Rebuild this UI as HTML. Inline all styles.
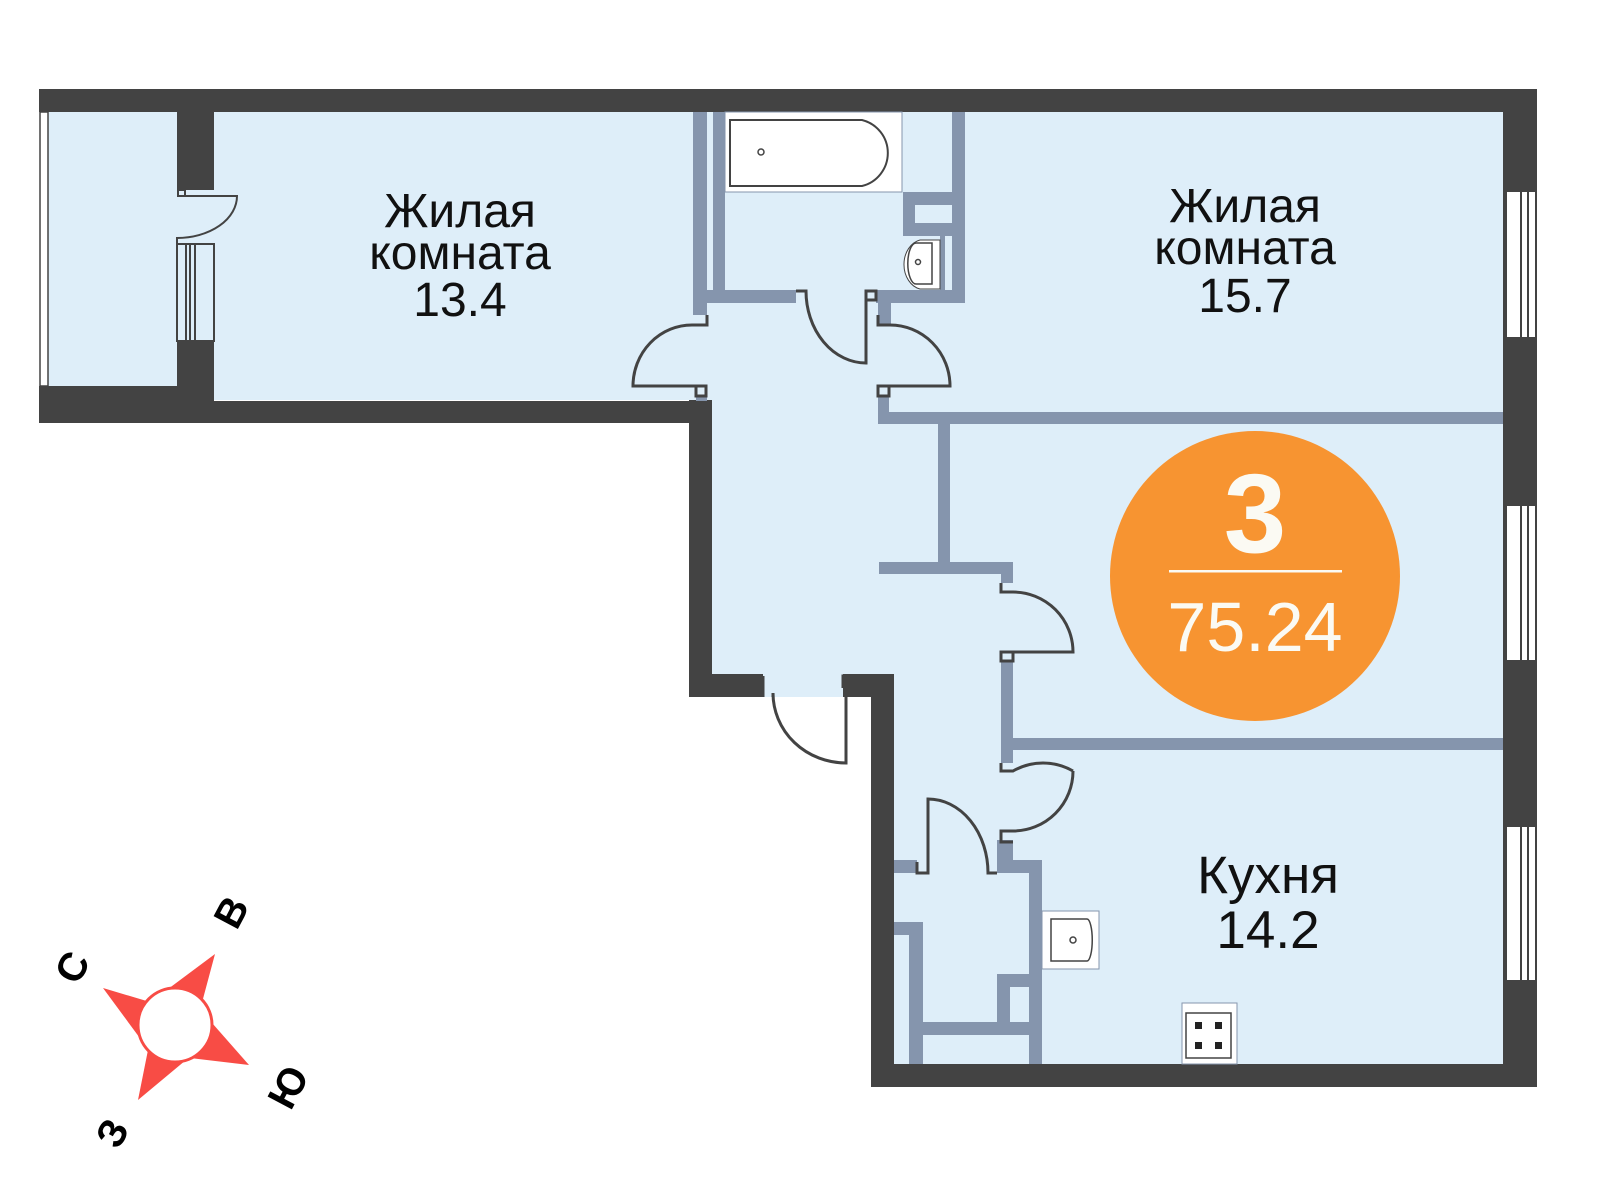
<!DOCTYPE html>
<html><head><meta charset="utf-8"><style>
html,body{margin:0;padding:0;background:#fff;}
svg{display:block;}
text{font-family:"Liberation Sans",sans-serif;}
</style></head><body>
<svg width="1600" height="1200" viewBox="0 0 1600 1200" xmlns="http://www.w3.org/2000/svg">
<!-- floors -->
<g fill="#deeef9">
<rect x="40" y="100" width="1470" height="300"/>
<rect x="712" y="390" width="798" height="680"/>
</g>
<rect x="712" y="697" width="159" height="380" fill="#fff"/>
<!-- balcony window left -->
<rect x="40" y="112" width="8" height="274" fill="#fff" stroke="#434343" stroke-width="1.5"/>
<!-- dark walls -->
<g fill="#434343">
<rect x="39" y="89" width="1498" height="23"/>
<rect x="39" y="386" width="175" height="37"/>
<rect x="214" y="401" width="498" height="22"/>
<rect x="177" y="112" width="37" height="78"/>
<rect x="177" y="341" width="37" height="82"/>
<rect x="689" y="400" width="23" height="297"/>
<rect x="689" y="674" width="74" height="23"/>
<rect x="843" y="674" width="50" height="23"/>
<rect x="871" y="674" width="23" height="413"/>
<rect x="871" y="1064" width="666" height="23"/>
<rect x="1503" y="89" width="34" height="998"/>
</g>
<!-- right windows -->
<g fill="#fff" stroke="#434343" stroke-width="2">
<rect x="1506" y="191" width="30" height="147"/>
<rect x="1506" y="505" width="30" height="156"/>
<rect x="1506" y="826" width="30" height="155"/>
</g>
<g stroke="#434343" stroke-width="2">
<line x1="1521" y1="191" x2="1521" y2="338"/><line x1="1528" y1="191" x2="1528" y2="338"/>
<line x1="1521" y1="505" x2="1521" y2="661"/><line x1="1528" y1="505" x2="1528" y2="661"/>
<line x1="1521" y1="826" x2="1521" y2="981"/><line x1="1528" y1="826" x2="1528" y2="981"/>
</g>
<!-- balcony door & window -->
<rect x="177" y="244" width="37" height="97" fill="#deeef9" stroke="#434343" stroke-width="2"/>
<g stroke="#434343" stroke-width="2" fill="none">
<line x1="186" y1="244" x2="186" y2="341"/><line x1="190" y1="244" x2="190" y2="341"/><line x1="195" y1="244" x2="195" y2="341"/>
<rect x="178" y="190" width="7" height="6"/>
<path d="M177,196 H237 A60 42 0 0 1 177,238 V244"/>
</g>
<!-- gray partitions -->
<g fill="#8595ad">
<rect x="693" y="112" width="14" height="203"/>
<rect x="713" y="112" width="12" height="186"/>
<rect x="707" y="290" width="89" height="13"/>
<rect x="952" y="112" width="13" height="191"/>
<rect x="876" y="290" width="89" height="13"/>
<rect x="903" y="192" width="62" height="44"/>
<rect x="940" y="236" width="5" height="54"/>
<rect x="878" y="303" width="13" height="22"/>
<rect x="878" y="396" width="11" height="28"/>
<rect x="878" y="412" width="625" height="12"/>
<rect x="938" y="424" width="12" height="140"/>
<rect x="879" y="562" width="134" height="12"/>
<rect x="1001" y="562" width="12" height="21"/>
<rect x="1001" y="661" width="12" height="102"/>
<rect x="1013" y="738" width="490" height="12"/>
<rect x="997" y="840" width="16" height="22"/>
<rect x="894" y="860" width="23" height="13"/>
<rect x="997" y="860" width="45" height="13"/>
<rect x="1029" y="860" width="13" height="204"/>
<rect x="894" y="922" width="29" height="13"/>
<rect x="909" y="922" width="14" height="142"/>
<rect x="909" y="1022" width="133" height="13"/>
<rect x="997" y="974" width="45" height="13"/>
<rect x="997" y="974" width="13" height="61"/>
<rect x="696" y="396" width="11" height="5"/>
</g>
<rect x="915" y="205" width="37" height="18" fill="#deeef9"/>
<!-- bathtub -->
<rect x="725" y="112" width="177" height="80" fill="#fff" stroke="#8595ad" stroke-width="1"/>
<path d="M730,120 H862 A34 34 0 0 1 862,186 H730 Z" fill="#fff" stroke="#434343" stroke-width="2"/>
<circle cx="761" cy="152" r="3" fill="none" stroke="#434343" stroke-width="1.5"/>
<!-- sink bath -->
<path d="M940,240 H920 A20 25 0 0 0 920,289 H940 Z" fill="#fff" stroke="#434343" stroke-width="1"/>
<path d="M932,243 H916 A8 20 0 0 0 916,284 H932 Z" fill="#fff" stroke="#434343" stroke-width="1.5"/>
<circle cx="918" cy="262" r="2.5" fill="none" stroke="#434343" stroke-width="1.5"/>
<!-- doors -->
<g stroke="#434343" stroke-width="3" fill="none">
<path d="M796,291 H806 A60 72 0 0 0 866,363 V291 H876 V300 H866"/>
<path d="M707,315 V325 H692 A59 61 0 0 0 633,386 H706 V396 H696 V386"/>
<path d="M878,315 V325 H890 A60 61 0 0 1 950,386 H878 V396 H889 V386"/>
<path d="M1001,583 V592 H1013 A60 60 0 0 1 1073,652 H1001 V661 H1013 V652"/>
<path d="M1001,763 V771 H1013 A60 60 0 0 1 1073,771 M1073,771 A60 60 0 0 1 1013,831 H1001 V842 H1013"/>
<path d="M917,862 V873 H928 V799 A60 74 0 0 1 988,873 H997"/>
<path d="M773,697 V693 A73 70 0 0 0 846,763 V688 H855 V676 H843 V688"/>
<path d="M763,676 V697"/>
</g>
<!-- kitchen sink -->
<rect x="1042" y="911" width="57" height="58" fill="#fff" stroke="#8595ad" stroke-width="1"/>
<path d="M1051,919 H1087 A5 20 0 0 1 1087,961 H1051 Z" fill="#fff" stroke="#434343" stroke-width="1.5"/>
<circle cx="1073" cy="940" r="3" fill="none" stroke="#434343" stroke-width="1.5"/>
<!-- stove -->
<rect x="1182" y="1003" width="55" height="61" fill="#fff" stroke="#8595ad" stroke-width="1"/>
<rect x="1186" y="1013" width="45" height="45" fill="#fff" stroke="#434343" stroke-width="1.5"/>
<g fill="#222"><rect x="1195" y="1022" width="7" height="7"/><rect x="1215" y="1022" width="7" height="7"/><rect x="1195" y="1042" width="7" height="7"/><rect x="1215" y="1042" width="7" height="7"/></g>
<!-- labels -->
<g font-size="48" fill="#111" text-anchor="middle">
<text x="460" y="227">Жилая</text>
<text x="460" y="269">комната</text>
<text x="460" y="316">13.4</text>
<text x="1245" y="222">Жилая</text>
<text x="1245" y="264">комната</text>
<text x="1245" y="312">15.7</text>
</g>
<g font-size="53" fill="#111" text-anchor="middle">
<text x="1268" y="893">Кухня</text>
<text x="1268" y="948">14.2</text>
</g>
<!-- badge -->
<circle cx="1255" cy="576" r="145" fill="#f79431"/>
<text x="1255" y="552" font-size="112" font-weight="bold" fill="#fbfaf3" text-anchor="middle">3</text>
<rect x="1169" y="570" width="173" height="2.5" fill="#fbfaf3"/>
<text x="1255" y="651" font-size="70" fill="#fbfaf3" text-anchor="middle">75.24</text>
<!-- compass -->
<g fill="#f84c45">
<polygon points="215,954 200,1010 160,995"/>
<polygon points="103,988 160,1005 145,1045"/>
<polygon points="138,1100 150,1040 192,1055"/>
<polygon points="249,1065 190,1058 205,1015"/>
</g>
<circle cx="175" cy="1025" r="37" fill="#fff" stroke="#f84c45" stroke-width="3"/>
<g font-size="40" font-weight="bold" fill="#000" text-anchor="middle">
<text x="72" y="981" transform="rotate(-62 72 967)">С</text>
<text x="231" y="926" transform="rotate(-62 231 912)">В</text>
<text x="288" y="1101" transform="rotate(-62 288 1087)">Ю</text>
<text x="112" y="1147" transform="rotate(-62 112 1133)">З</text>
</g>
</svg>
</body></html>
